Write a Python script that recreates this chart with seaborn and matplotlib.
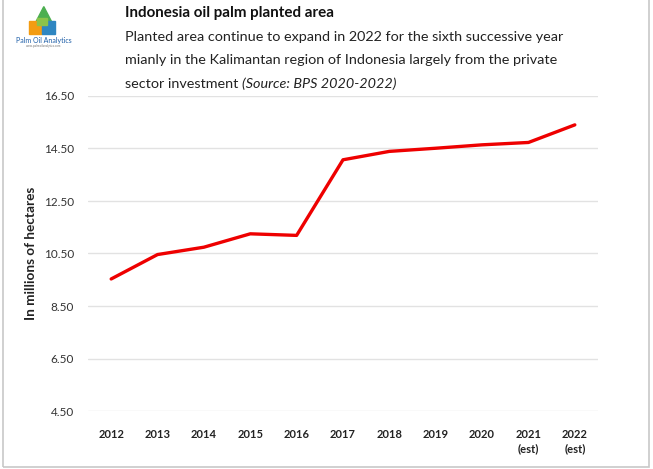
import matplotlib
matplotlib.use("Agg")
import matplotlib.pyplot as plt
import matplotlib.patches as mpatches
import seaborn as sns
import pandas as pd

# Planted area, millions of hectares
years = ["2012", "2013", "2014", "2015", "2016", "2017", "2018", "2019", "2020", "2021\n(est)", "2022\n(est)"]
area = [9.53, 10.46, 10.74, 11.25, 11.19, 14.07, 14.39, 14.51, 14.64, 14.73, 15.40]
yticks = [4.5, 6.5, 8.5, 10.5, 12.5, 14.5, 16.5]

df = pd.DataFrame({"year": years, "area": area})

sns.set_theme(style="white")
plt.rcParams["font.family"] = ["Lato", "DejaVu Sans"]

W, H = 653, 469
fig = plt.figure(figsize=(W / 100, H / 100), dpi=100)
ax = fig.add_axes([88 / W, 1 - 411 / H, (598 - 88) / W, (411 - 96) / H])

sns.lineplot(data=df, x="year", y="area", ax=ax, color="#ee0000", linewidth=2.4, sort=False)

ax.set_xlim(-0.5, len(years) - 0.5)
ax.set_ylim(4.5, 16.5)
ax.set_yticks(yticks)
ax.set_yticklabels([f"{v:.2f}" for v in yticks], fontsize=8.5, color="#333333")
ax.set_xticks(range(len(years)))
ax.set_xticklabels(years, fontsize=8, fontweight="bold", color="#222222", linespacing=1.4)
ax.tick_params(axis="both", length=0, pad=10)
ax.tick_params(axis="x", pad=13)
ax.set_xlabel("")
ax.set_ylabel("In millions of hectares", fontsize=9.8, fontweight="bold", color="#222222", labelpad=5)
ax.yaxis.grid(True, color="#e2e2e2", linewidth=1)
ax.xaxis.grid(False)
for s in ax.spines.values():
    s.set_visible(False)

# Outer frame
fig.add_artist(mpatches.Rectangle((3 / W, 2 / H), (649 - 3) / W, 1.0, transform=fig.transFigure,
                                  fill=False, edgecolor="#c8c8c8", linewidth=1.2))

# Title block
fig.text(125 / W, 1 - 13 / H, "Indonesia oil palm planted area", fontsize=10.9, fontweight="bold",
         color="#111111", va="center", ha="left")
sub = ["Planted area continue to expand in 2022 for the sixth successive year",
       "mianly in the Kalimantan region of Indonesia largely from the private"]
for i, line in enumerate(sub):
    fig.text(125 / W, 1 - (37 + 23.5 * i) / H, line, fontsize=10.35, color="#222222", va="center", ha="left")
t = fig.text(125 / W, 1 - 84 / H, "sector investment ", fontsize=10.35, color="#222222", va="center", ha="left")
fig.canvas.draw()
bb = t.get_window_extent()
fig.text(bb.x1 / W, 1 - 84 / H, "(Source: BPS 2020-2022)", fontsize=10.35, style="italic",
         color="#222222", va="center", ha="left")

# Logo
logo = fig.add_axes([24 / W, 1 - 36 / H, 36 / W, 30 / H])
logo.set_xlim(0, 10)
logo.set_ylim(0, 10)
logo.axis("off")
logo.add_patch(mpatches.Polygon([(3, 4), (5.5, 9.8), (8, 4)], color="#4caf50"))
logo.add_patch(mpatches.Rectangle((1.5, 0.5), 3.5, 4.5, color="#f39c12"))
logo.add_patch(mpatches.Rectangle((5, 0.5), 3.5, 4.5, color="#2e86c1"))
logo.add_patch(mpatches.Rectangle((3.5, 3.5), 3, 2.5, color="#8bc34a"))
fig.text(44 / W, 1 - 41 / H, "Palm Oil Analytics", fontsize=5, color="#1f5fa8", ha="center", va="center")
fig.text(44 / W, 1 - 46 / H, "www.palmoilanalytics.com", fontsize=2.2, color="#777777", ha="center", va="center")

fig.savefig("out.png", dpi=100)
